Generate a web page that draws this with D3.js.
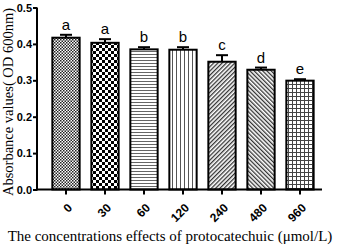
<!DOCTYPE html>
<html>
<head>
<meta charset="utf-8">
<script src="https://cdn.jsdelivr.net/npm/d3@7"></script>
<style>
body { margin: 0; background: #fff; }
</style>
</head>
<body>
<svg id="chart"></svg>
<script>
// 濃度ごとの吸光度
var concs = ["0", "30", "60", "120", "240", "480", "960"];
var means = [0.417, 0.403, 0.385, 0.384, 0.351, 0.329, 0.299];
var errs = [0.008, 0.010, 0.006, 0.007, 0.018, 0.006, 0.004];
var letters = ["a", "a", "b", "b", "c", "d", "e"];
var yTicks = [0.0, 0.1, 0.2, 0.3, 0.4, 0.5];
var patterns = ["chkS", "chkL", "hline", "vline", "diagR", "diagL", "grid"];

var w = 340, h = 246;
var svg = d3.select("#chart").attr("width", w).attr("height", h);

var x = d3.scaleBand().domain(concs).range([46.5, 319.5]).paddingInner(0.3).paddingOuter(0.15);
var y = d3.scaleLinear().domain([0, 0.5]).range([189.5, 7.5]);

// パターン定義
var defs = svg.append("defs");
function pat(id, size) {
  return defs.append("pattern").attr("id", id).attr("patternUnits", "userSpaceOnUse")
    .attr("width", size).attr("height", size);
}
var p = pat("chkS", 3);
p.append("rect").attr("width", 3).attr("height", 3).attr("fill", "#fff");
p.append("rect").attr("width", 1.5).attr("height", 1.5).attr("fill", "#222");
p.append("rect").attr("x", 1.5).attr("y", 1.5).attr("width", 1.5).attr("height", 1.5).attr("fill", "#222");

p = pat("chkL", 6);
p.append("rect").attr("width", 6).attr("height", 6).attr("fill", "#fff");
p.append("rect").attr("width", 3).attr("height", 3).attr("fill", "#000");
p.append("rect").attr("x", 3).attr("y", 3).attr("width", 3).attr("height", 3).attr("fill", "#000");

p = pat("hline", 3);
p.append("rect").attr("width", 3).attr("height", 3).attr("fill", "#fff");
p.append("rect").attr("width", 3).attr("height", 1).attr("fill", "#666");

p = pat("vline", 4);
p.append("rect").attr("width", 4).attr("height", 4).attr("fill", "#fff");
p.append("rect").attr("width", 1).attr("height", 4).attr("fill", "#555");

p = pat("diagR", 3).attr("patternTransform", "rotate(45)");
p.append("rect").attr("width", 3).attr("height", 3).attr("fill", "#fff");
p.append("rect").attr("width", 1.3).attr("height", 3).attr("fill", "#333");

p = pat("diagL", 3).attr("patternTransform", "rotate(-45)");
p.append("rect").attr("width", 3).attr("height", 3).attr("fill", "#fff");
p.append("rect").attr("width", 1.3).attr("height", 3).attr("fill", "#333");

p = pat("grid", 4);
p.append("rect").attr("width", 4).attr("height", 4).attr("fill", "#fff");
p.append("rect").attr("width", 1).attr("height", 4).attr("fill", "#444");
p.append("rect").attr("width", 4).attr("height", 1).attr("fill", "#444");

// 棒
svg.selectAll("rect.bar").data(concs).enter().append("rect")
  .attr("class", "bar")
  .attr("x", d => x(d))
  .attr("y", (d, i) => y(means[i]))
  .attr("width", x.bandwidth())
  .attr("height", (d, i) => y(0) - y(means[i]))
  .attr("fill", (d, i) => "url(#" + patterns[i] + ")")
  .attr("stroke", "#000")
  .attr("stroke-width", 2);

// エラーバー
var eb = svg.selectAll("g.err").data(concs).enter().append("g");
eb.append("line")
  .attr("x1", d => x(d) + x.bandwidth() / 2).attr("x2", d => x(d) + x.bandwidth() / 2)
  .attr("y1", (d, i) => y(means[i])).attr("y2", (d, i) => y(means[i] + errs[i]))
  .attr("stroke", "#000").attr("stroke-width", 2);
eb.append("line")
  .attr("x1", d => x(d) + x.bandwidth() / 2 - 6).attr("x2", d => x(d) + x.bandwidth() / 2 + 6)
  .attr("y1", (d, i) => y(means[i] + errs[i])).attr("y2", (d, i) => y(means[i] + errs[i]))
  .attr("stroke", "#000").attr("stroke-width", 2);

// 有意差の文字
svg.selectAll("text.sig").data(concs).enter().append("text")
  .attr("x", d => x(d) + x.bandwidth() / 2)
  .attr("y", (d, i) => y(means[i] + errs[i]) - 5)
  .attr("text-anchor", "middle")
  .style("font-family", "Arial, 'Liberation Sans', sans-serif")
  .style("font-size", "15px")
  .text((d, i) => letters[i]);

// Y軸
var yAxis = svg.append("g").attr("transform", "translate(37,0)")
  .call(d3.axisLeft(y).tickValues(yTicks).tickFormat(d3.format(".1f")).tickSize(4).tickPadding(1));
yAxis.select(".domain").attr("stroke-width", 2).attr("d", "M0," + y(0.5) + "V" + (y(0) + 1));
yAxis.selectAll(".tick line").attr("stroke-width", 2);
yAxis.selectAll(".tick text")
  .style("font-family", "Arial, 'Liberation Sans', sans-serif")
  .style("font-size", "11px").style("font-weight", "bold").attr("fill", "#000");

// X軸
var xAxis = svg.append("g").attr("transform", "translate(0," + y(0) + ")")
  .call(d3.axisBottom(x).tickSize(5).tickSizeOuter(0));
xAxis.select(".domain").attr("stroke-width", 2).attr("d", "M36,0H322");
xAxis.selectAll(".tick line").attr("stroke-width", 2);
xAxis.selectAll(".tick text")
  .style("font-family", "Arial, 'Liberation Sans', sans-serif")
  .style("font-size", "12px").style("font-weight", "bold")
  .attr("text-anchor", "end")
  .attr("x", 0).attr("y", 0).attr("dy", 0)
  .attr("transform", "translate(7,19) rotate(-45)");

// 軸タイトル
svg.append("text")
  .attr("transform", "translate(13,102) rotate(-90)")
  .attr("text-anchor", "middle")
  .style("font-family", "'Liberation Serif', 'Times New Roman', serif")
  .style("font-size", "14.5px")
  .text("Absorbance values( OD 600nm)");

svg.append("text")
  .attr("x", 170).attr("y", 241)
  .attr("text-anchor", "middle")
  .style("font-family", "'Liberation Serif', 'Times New Roman', serif")
  .style("font-size", "15px")
  .text("The concentrations effects of protocatechuic (μmol/L)");
</script>
</body>
</html>
